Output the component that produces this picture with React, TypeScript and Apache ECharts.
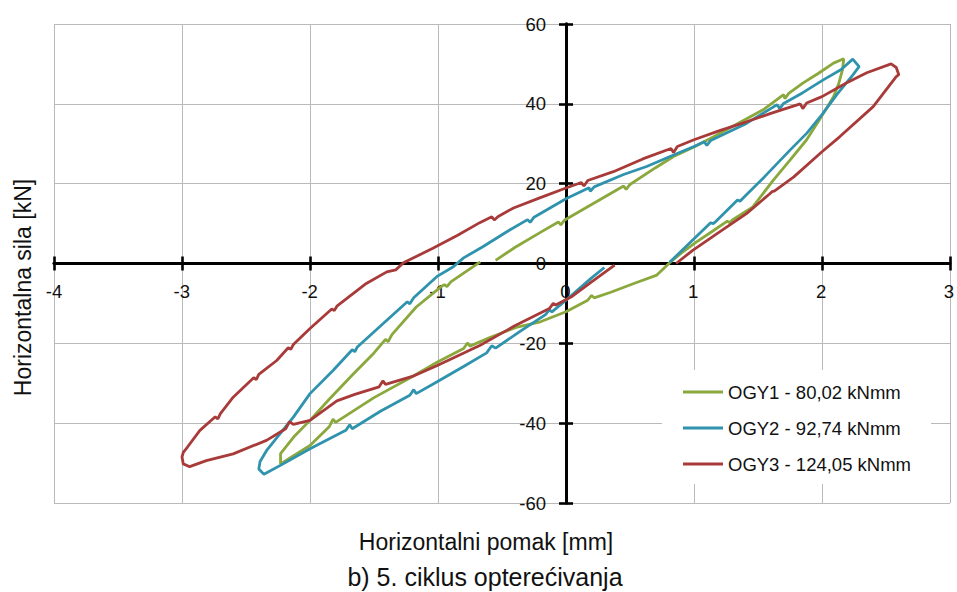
import React, { useEffect, useRef } from "react";
import * as echarts from "echarts";

const seriesNames = ["OGY1 - 80,02 kNmm", "OGY2 - 92,74 kNmm", "OGY3 - 124,05 kNmm"];
const seriesColors = ["#8aa83c", "#2f93ad", "#a83b39"];

// OGY1 (green): displacement [mm], force [kN]
const ogy1Points: number[][] = [
  [-0.55, 0.8], [-0.4, 4.0], [-0.2, 7.8], [-0.06, 10.4], [-0.04, 9.7], [-0.01, 10.9],
  [0.2, 14.8], [0.45, 19.4], [0.47, 18.6], [0.5, 19.8], [0.7, 24.0], [0.84, 26.8],
  [1.0, 29.2], [1.15, 31.7], [1.35, 35.2], [1.54, 38.5], [1.7, 42.3], [1.71, 41.3],
  [1.74, 42.6], [1.85, 45.2], [1.97, 47.6], [2.09, 50.2], [2.17, 51.3], [2.16, 48.5],
  [2.13, 45.0], [2.09, 41.8], [1.98, 36.0], [1.88, 31.0], [1.75, 25.9], [1.62, 20.9],
  [1.46, 14.2], [1.3, 10.9], [1.28, 10.2], [1.26, 10.6], [1.15, 8.2], [1.02, 5.4],
  [0.9, 2.6], [0.81, 0.2], [0.71, -2.9], [0.53, -5.0], [0.35, -7.2], [0.22, -8.6],
  [0.2, -8.0], [0.17, -9.2], [0.0, -12.1], [-0.2, -14.6], [-0.39, -16.0], [-0.6, -18.6],
  [-0.75, -20.7], [-0.77, -19.9], [-0.8, -21.3], [-1.0, -24.6], [-1.22, -28.7],
  [-1.5, -33.6], [-1.8, -39.8], [-1.82, -39.0], [-1.85, -40.9], [-2.0, -45.6],
  [-2.15, -48.6], [-2.23, -50.2], [-2.23, -47.6], [-2.12, -43.2], [-2.0, -39.3],
  [-1.85, -34.0], [-1.66, -27.6], [-1.5, -22.4], [-1.41, -19.0], [-1.39, -19.6],
  [-1.36, -17.8], [-1.17, -10.9], [-0.98, -5.9], [-0.95, -5.3], [-0.93, -5.8],
  [-0.9, -4.6], [-0.67, 0.4]
];

// OGY2 (blue)
const ogy2Points: number[][] = [
  [0.3, -1.0], [0.2, -3.6], [0.05, -7.8], [0.0, -9.2], [-0.11, -12.1], [-0.13, -11.6],
  [-0.16, -12.8], [-0.35, -16.8], [-0.55, -21.2], [-0.58, -20.6], [-0.62, -22.4],
  [-0.8, -25.8], [-1.01, -29.7], [-1.17, -32.6], [-1.19, -31.6], [-1.22, -33.0],
  [-1.45, -37.0], [-1.67, -41.4], [-1.69, -40.4], [-1.72, -41.8], [-2.0, -46.4],
  [-2.21, -50.2], [-2.36, -52.8], [-2.4, -51.5], [-2.39, -49.6], [-2.34, -46.9],
  [-2.13, -38.5], [-2.0, -32.6], [-1.82, -26.8], [-1.67, -21.6], [-1.65, -22.1],
  [-1.63, -20.9], [-1.43, -15.1], [-1.24, -9.6], [-1.22, -10.1], [-1.19, -8.6],
  [-1.01, -3.3], [-0.88, -0.8], [-0.8, 1.4], [-0.65, 4.2], [-0.44, 8.4], [-0.3, 11.0],
  [-0.28, 10.3], [-0.25, 11.6], [0.0, 16.2], [0.18, 19.0], [0.19, 18.1], [0.22, 19.2],
  [0.45, 22.3], [0.63, 24.3], [0.85, 27.3], [1.0, 29.3], [1.08, 30.5], [1.1, 29.6],
  [1.13, 30.8], [1.41, 35.1], [1.65, 39.8], [1.67, 38.8], [1.7, 40.1], [1.85, 42.8],
  [2.01, 46.0], [2.15, 48.6], [2.24, 51.2], [2.29, 49.3], [2.24, 47.2], [2.12, 42.5],
  [2.0, 37.3], [1.88, 32.6], [1.75, 28.4], [1.55, 21.7], [1.38, 16.3], [1.36, 15.6],
  [1.34, 15.9], [1.17, 10.5], [1.15, 10.0], [1.13, 10.2], [0.98, 5.6], [0.81, 0.3]
];

// OGY3 (red)
const ogy3Points: number[][] = [
  [0.38, -0.4], [0.2, -4.6], [0.05, -8.2], [-0.08, -10.4], [-0.1, -10.0], [-0.13, -11.3],
  [-0.4, -15.6], [-0.67, -20.5], [-1.01, -25.6], [-1.2, -28.3], [-1.41, -30.3],
  [-1.43, -29.4], [-1.46, -30.9], [-1.65, -32.8], [-1.79, -34.4], [-2.0, -39.3],
  [-2.13, -40.3], [-2.16, -39.6], [-2.19, -41.4], [-2.34, -44.3], [-2.6, -47.7],
  [-2.81, -49.4], [-2.94, -50.9], [-2.99, -50.2], [-3.0, -48.5], [-2.99, -47.3],
  [-2.96, -46.1], [-2.86, -41.8], [-2.74, -38.4], [-2.72, -38.9], [-2.7, -37.6],
  [-2.6, -33.5], [-2.44, -28.6], [-2.42, -29.1], [-2.4, -27.8], [-2.26, -24.3],
  [-2.17, -21.1], [-2.15, -21.5], [-2.13, -20.3], [-2.0, -16.3], [-1.83, -11.4],
  [-1.81, -11.8], [-1.79, -10.7], [-1.56, -5.0], [-1.4, -2.1], [-1.33, -1.6],
  [-1.27, 0.2], [-1.04, 3.8], [-0.85, 7.0], [-0.67, 10.3], [-0.58, 11.7],
  [-0.56, 10.9], [-0.53, 11.8], [-0.41, 13.9], [-0.2, 16.5], [0.0, 18.9], [0.12, 20.3],
  [0.14, 19.4], [0.17, 20.8], [0.37, 23.0], [0.6, 26.2], [0.82, 28.8], [0.84, 27.8],
  [0.87, 29.3], [1.0, 31.0], [1.2, 33.3], [1.41, 35.5], [1.6, 37.6], [1.83, 40.0],
  [1.85, 38.8], [1.88, 40.2], [2.0, 41.8], [2.19, 45.2], [2.35, 47.8], [2.54, 50.0],
  [2.58, 49.1], [2.6, 47.3], [2.58, 46.8], [2.4, 39.3], [2.14, 31.8], [2.0, 28.0],
  [1.78, 21.7], [1.63, 18.2], [1.61, 18.0], [1.59, 17.4], [1.41, 12.5], [1.2, 7.9],
  [0.99, 3.3], [0.86, 0.0]
];

const seriesPoints = [ogy1Points, ogy2Points, ogy3Points];

const xTitle = "Horizontalni pomak [mm]";
const yTitle = "Horizontalna sila [kN]";
const caption = "b) 5. ciklus opterećivanja";

const FONT = "'Liberation Sans', Arial, Helvetica, sans-serif";

export default function App() {
  const ref = useRef<HTMLDivElement>(null);

  useEffect(() => {
    if (!ref.current) return;
    const chart = echarts.init(ref.current, null, { renderer: "svg" });

    const lineSt = { color: "#000", width: 2.8 };
    const tick = { show: true, length: 7, lineStyle: { color: "#000", width: 2.6 } };
    const split = { show: true, lineStyle: { color: "#b9b9b9", width: 1 } };
    const labelSt = { fontSize: 18.5, color: "#111", fontFamily: FONT };

    const option: any = {
      animation: false,
      backgroundColor: "#fff",
      textStyle: { fontFamily: FONT },
      grid: [
        // main plot area
        { left: 54, right: 7, top: 24, bottom: 89, containLabel: false },
        // helper: bottom edge sits on y = 0, carries x tick labels
        { left: 54, right: 7, top: 24, bottom: 328.7, containLabel: false },
        // helper: left edge sits on x = 0, carries y tick labels
        { left: 566, right: 7, top: 24, bottom: 89, containLabel: false }
      ],
      xAxis: [
        {
          gridIndex: 0, type: "value", min: -4, max: 3, interval: 1, position: "bottom",
          axisLine: { onZero: true, lineStyle: lineSt }, axisTick: tick, splitLine: split,
          axisLabel: { show: false }
        },
        {
          gridIndex: 0, type: "value", min: -4, max: 3, interval: 1, position: "top",
          axisLine: { onZero: true, onZeroAxisIndex: 0, lineStyle: lineSt },
          axisTick: tick, splitLine: { show: false }, axisLabel: { show: false }
        },
        {
          gridIndex: 1, type: "value", min: -4, max: 3, interval: 1, position: "bottom",
          axisLine: { show: false, onZero: false }, axisTick: { show: false }, splitLine: { show: false },
          axisLabel: { ...labelSt, margin: 19 }
        },
        { gridIndex: 2, type: "value", min: 0, max: 1, show: false }
      ],
      yAxis: [
        {
          gridIndex: 0, type: "value", min: -60, max: 60, interval: 20, position: "left",
          axisLine: { onZero: true, lineStyle: lineSt }, axisTick: tick, splitLine: split,
          axisLabel: { show: false }
        },
        {
          gridIndex: 0, type: "value", min: -60, max: 60, interval: 20, position: "right",
          axisLine: { onZero: true, onZeroAxisIndex: 0, lineStyle: lineSt },
          axisTick: tick, splitLine: { show: false }, axisLabel: { show: false }
        },
        { gridIndex: 1, type: "value", min: 0, max: 1, show: false },
        {
          gridIndex: 2, type: "value", min: -60, max: 60, interval: 20, position: "left",
          axisLine: { show: false, onZero: false }, axisTick: { show: false }, splitLine: { show: false },
          axisLabel: { ...labelSt, margin: 20 }
        }
      ],
      legend: {
        orient: "vertical",
        left: 662,
        top: 370,
        padding: [11, 20, 9, 21],
        backgroundColor: "#fff",
        icon: "rect",
        itemWidth: 40,
        itemHeight: 3,
        itemGap: 14,
        data: seriesNames,
        textStyle: { fontSize: 18.5, color: "#111", lineHeight: 22, fontFamily: FONT }
      },
      series: seriesNames.map((name, i) => ({
        name,
        type: "line",
        xAxisIndex: 0,
        yAxisIndex: 0,
        data: seriesPoints[i],
        symbol: "none",
        smooth: false,
        color: seriesColors[i],
        itemStyle: { color: seriesColors[i] },
        lineStyle: { color: seriesColors[i], width: 2.8 },
        z: 3 + i
      })),
      graphic: [
        {
          type: "text", x: 486, y: 541.5,
          style: { text: xTitle, fontSize: 23, fontFamily: FONT, fill: "#111", textAlign: "center", textVerticalAlign: "middle" }
        },
        {
          type: "text", x: 485, y: 577,
          style: { text: caption, fontSize: 25, fontFamily: FONT, fill: "#111", textAlign: "center", textVerticalAlign: "middle" }
        },
        {
          type: "text", x: 23, y: 287.5, rotation: Math.PI / 2,
          style: { text: yTitle, fontSize: 23, fontFamily: FONT, fill: "#111", textAlign: "center", textVerticalAlign: "middle" }
        }
      ]
    };

    chart.setOption(option);
    return () => chart.dispose();
  }, []);

  return (
    <div
      ref={ref}
      style={{ position: "absolute", left: 0, top: 0, width: 957, height: 592 }}
    />
  );
}
